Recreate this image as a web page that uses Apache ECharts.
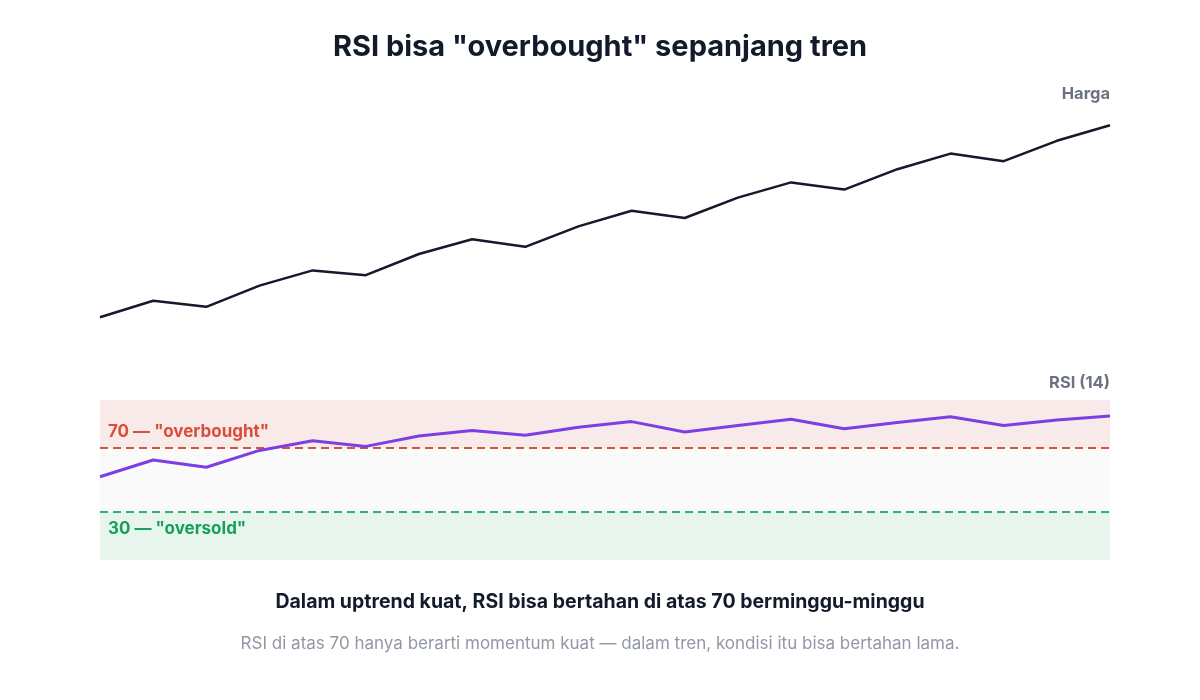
<!DOCTYPE html>
<html><head><meta charset="utf-8">
<script src="https://cdn.jsdelivr.net/npm/echarts@6/dist/echarts.min.js"></script>
<style>html,body{margin:0;padding:0;background:#fff}#c{width:1200px;height:700px}</style>
</head><body><div id="c"></div>
<script>
const periods = ['1','2','3','4','5','6','7','8','9','10','11','12','13','14','15','16','17','18','19','20'];
const price = [95.7, 99.8, 98.3, 103.6, 107.4, 106.2, 111.5, 115.2, 113.3, 118.4, 122.3, 120.5, 125.6, 129.4, 127.6, 132.7, 136.6, 134.7, 139.8, 143.7];
const rsi = [52, 62.5, 58, 68.5, 74.5, 71, 77.5, 81, 78, 83, 86.5, 80, 84, 88, 82, 86, 89.5, 84, 87.5, 90];
const overbought = 70;
const oversold = 30;
const texts = {
  title: 'RSI bisa "overbought" sepanjang tren',
  priceLabel: 'Harga',
  rsiLabel: 'RSI (14)',
  obLabel: '70 — "overbought"',
  osLabel: '30 — "oversold"',
  subtitle: 'Dalam uptrend kuat, RSI bisa bertahan di atas 70 berminggu-minggu',
  footer: 'RSI di atas 70 hanya berarti momentum kuat — dalam tren, kondisi itu bisa bertahan lama.'
};
const FONT = 'Inter, "Liberation Sans", Arial, sans-serif';
function label(text, x, y, align, font, fill) {
  return {type: 'text', z: 100, style: {text: text, x: x, y: y, align: align, verticalAlign: 'middle', font: font + ' ' + FONT, fill: fill}};
}
const chart = echarts.init(document.getElementById('c'));
chart.setOption({
  animation: false,
  textStyle: {fontFamily: FONT},
  grid: [
    {left: 100, right: 90, top: 100, height: 240},
    {left: 100, right: 90, top: 400, height: 160}
  ],
  xAxis: [
    {gridIndex: 0, type: 'category', data: periods, boundaryGap: false, show: false},
    {gridIndex: 1, type: 'category', data: periods, boundaryGap: false, show: false}
  ],
  yAxis: [
    {gridIndex: 0, type: 'value', min: 90, max: 150, show: false},
    {gridIndex: 1, type: 'value', min: 0, max: 100, show: false}
  ],
  series: [
    {type: 'line', xAxisIndex: 0, yAxisIndex: 0, data: price, showSymbol: false,
     lineStyle: {color: '#141a2b', width: 2.5}, z: 5},
    {type: 'line', xAxisIndex: 1, yAxisIndex: 1, data: rsi, showSymbol: false,
     lineStyle: {color: '#7b3fe4', width: 3}, z: 5,
     markArea: {silent: true, data: [
       [{yAxis: overbought, itemStyle: {color: '#f9eaea'}}, {yAxis: 100}],
       [{yAxis: oversold, itemStyle: {color: '#fafafa'}}, {yAxis: overbought}],
       [{yAxis: 0, itemStyle: {color: '#e8f5ed'}}, {yAxis: oversold}]
     ]},
     markLine: {silent: true, symbol: 'none', label: {show: false}, data: [
       {yAxis: overbought, lineStyle: {color: '#d0553f', type: [8, 5], width: 1.8}},
       {yAxis: oversold, lineStyle: {color: '#2fb36a', type: [8, 5], width: 1.8}}
     ]}
    }
  ],
  graphic: [
    label(texts.title, 600, 47, 'center', 'bold 29px', '#131a2a'),
    label(texts.priceLabel, 1110, 94, 'right', 'bold 16.5px', '#6b7280'),
    label(texts.rsiLabel, 1110, 383, 'right', 'bold 16.5px', '#6b7280'),
    label(texts.obLabel, 108, 432, 'left', 'bold 17px', '#dc4c3a'),
    label(texts.osLabel, 108, 529, 'left', 'bold 17px', '#16a05c'),
    label(texts.subtitle, 600, 602, 'center', 'bold 19.5px', '#131a2a'),
    label(texts.footer, 600, 644, 'center', '17px', '#9197a3')
  ]
});
</script></body></html>
